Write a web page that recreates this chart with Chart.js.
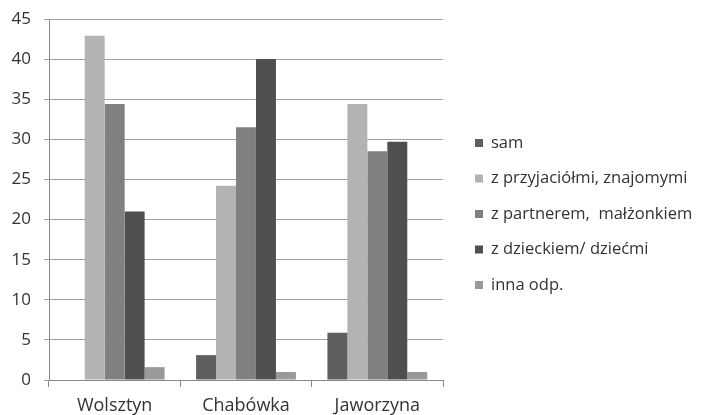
<!DOCTYPE html>
<html>
<head>
<meta charset="utf-8">
<script src="https://cdn.jsdelivr.net/npm/chart.js@4"></script>
<style>
  html, body { margin: 0; padding: 0; background: #fff; }
  #wrap { width: 702px; height: 415px; }
</style>
</head>
<body>
<div id="wrap"><canvas id="wykres"></canvas></div>
<script>
// dane
const kategorie = ['Wolsztyn', 'Chabówka', 'Jaworzyna'];
const serie = ['sam', 'z przyjaciółmi, znajomymi', 'z partnerem,  małżonkiem', 'z dzieckiem/ dziećmi', 'inna odp.'];
const sam = [0, 3.1, 5.9];
const przyjaciele = [42.9, 24.2, 34.4];
const partner = [34.4, 31.5, 28.5];
const dzieci = [21.0, 40.0, 29.7];
const inna = [1.6, 1.0, 1.0];
const kolory = ['#5e5e5e', '#b3b3b3', '#808080', '#4f4f4f', '#999999'];
const osY = { min: 0, max: 45, krok: 5 };

const wartosci = [sam, przyjaciele, partner, dzieci, inna];

// legenda rysowana recznie po prawej stronie obszaru wykresu
const legendaPrawa = {
    id: 'legendaPrawa',
    afterDraw(chart) {
        const ctx = chart.ctx;
        const area = chart.chartArea;
        const odstep = 35.5;
        const x0 = area.right + 32;
        const srodek = (area.top + area.bottom) / 2 + 14.5;
        const y0 = srodek - odstep * (chart.data.datasets.length - 1) / 2;
        ctx.save();
        ctx.font = '16.5px "Open Sans"';
        ctx.textBaseline = 'middle';
        chart.data.datasets.forEach((ds, i) => {
            const y = y0 + i * odstep;
            ctx.fillStyle = ds.backgroundColor;
            ctx.fillRect(x0, y - 4, 8, 8);
            ctx.fillStyle = '#333';
            ctx.fillText(ds.label, x0 + 16, y);
        });
        ctx.restore();
    }
};

new Chart(document.getElementById('wykres').getContext('2d'), {
    type: 'bar',
    data: {
        labels: kategorie,
        datasets: serie.map((nazwa, i) => ({
            label: nazwa,
            data: wartosci[i],
            backgroundColor: kolory[i],
            borderWidth: 0,
            categoryPercentage: 0.76,
            barPercentage: 1.0
        }))
    },
    options: {
        responsive: true,
        maintainAspectRatio: false,
        animation: false,
        layout: { padding: { top: 19, left: 11, right: 259, bottom: 0 } },
        plugins: {
            tooltip: { enabled: false },
            legend: { display: false }
        },
        scales: {
            x: {
                afterFit: (skala) => { skala.height = 35; },
                grid: {
                    offset: true,
                    drawOnChartArea: false,
                    drawTicks: true,
                    tickLength: 7,
                    color: '#888'
                },
                border: { color: '#888' },
                ticks: {
                    color: '#333',
                    padding: 8,
                    font: { family: 'Open Sans', size: 18 }
                }
            },
            y: {
                min: osY.min,
                max: osY.max,
                afterFit: (skala) => {
                    skala.width = 38;
                    skala.paddingTop = 0;
                    skala.paddingBottom = 0;
                },
                grid: {
                    color: '#a0a0a0',
                    tickLength: 5
                },
                border: { color: '#888' },
                ticks: {
                    stepSize: osY.krok,
                    color: '#333',
                    padding: 13,
                    font: { family: 'Open Sans', size: 17 }
                }
            }
        }
    },
    plugins: [legendaPrawa]
});
</script>
</body>
</html>
